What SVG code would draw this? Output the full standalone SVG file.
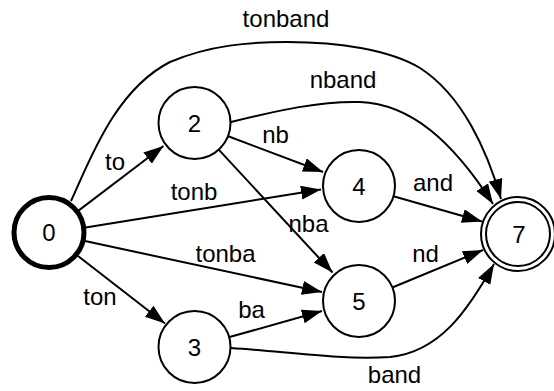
<svg xmlns="http://www.w3.org/2000/svg" width="554" height="391" viewBox="0 0 554 391">
<style>
  .node { fill: #fff; stroke: #000; stroke-width: 2; }
  .start { stroke-width: 5; }
  .edge { fill: none; stroke: #000; stroke-width: 2; marker-end: url(#arrow); }
  text { font-family: "Liberation Sans", Arial, Helvetica, sans-serif; font-size: 24px; fill: #000; text-anchor: middle; }
</style>
<defs>
  <marker id="arrow" markerUnits="userSpaceOnUse" markerWidth="22" markerHeight="16" refX="20" refY="7" orient="auto">
    <path d="M0,0 L20,7 L0,14 z" fill="#000"/>
  </marker>
</defs>
<rect width="554" height="391" fill="#fff"/>
<g id="edges">
  <path class="edge" d="M78.5,210.6 L163.5,146"/>
  <path class="edge" d="M85.6,227.5 L321,189.5"/>
  <path class="edge" d="M85,241 L322,292"/>
  <path class="edge" d="M78,256 L165,323.5"/>
  <path class="edge" d="M227.6,136 L323,172"/>
  <path class="edge" d="M218.5,149.4 L332.5,272.5"/>
  <path class="edge" d="M228.7,337.3 L322,311"/>
  <path class="edge" d="M392.6,196 L482,221.5"/>
  <path class="edge" d="M392.3,287.5 L483,250"/>
  <path class="edge" d="M71,201 C90,160 115,90 170,62 C210,45 250,42 287,42 C340,42 390,50 420,68 C462,95 487,150 501,199"/>
  <path class="edge" d="M231,122 C280,110 320,101 360,102 C410,104 452,140 493,204"/>
  <path class="edge" d="M231,348 C290,352 340,360 390,357 C440,352 468,310 494,264"/>
  <text x="286" y="27">tonband</text>
  <text x="343" y="88">nband</text>
  <text x="275.5" y="143">nb</text>
  <text x="115" y="170">to</text>
  <text x="194" y="200">tonb</text>
  <text x="308.5" y="232">nba</text>
  <text x="433" y="191">and</text>
  <text x="225.5" y="262">tonba</text>
  <text x="425.5" y="262">nd</text>
  <text x="100" y="305">ton</text>
  <text x="251.5" y="318">ba</text>
  <text x="394.5" y="383">band</text>
</g>
<g id="node0"><circle class="node start" cx="49" cy="232.5" r="35"/><text x="49" y="241">0</text></g>
<g id="node2"><circle class="node" cx="194.5" cy="123" r="36"/><text x="194.5" y="131.5">2</text></g>
<g id="node3"><circle class="node" cx="194.5" cy="347" r="36"/><text x="194.5" y="355.5">3</text></g>
<g id="node4"><circle class="node" cx="359" cy="186" r="36"/><text x="359" y="194.5">4</text></g>
<g id="node5"><circle class="node" cx="359" cy="301" r="36"/><text x="359" y="309.5">5</text></g>
<g id="node7"><circle class="node" cx="518" cy="234" r="37"/><circle class="node" cx="518" cy="234" r="32"/><text x="519" y="242.5">7</text></g>
</svg>
